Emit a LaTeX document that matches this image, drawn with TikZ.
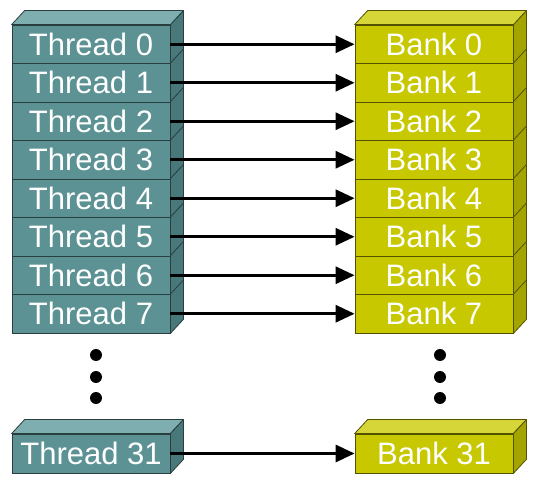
\documentclass[tikz,border=0pt]{standalone}
\usepackage{fontspec}
\setmainfont{Liberation Sans}
\usetikzlibrary{arrows.meta,calc}
\definecolor{thrfront}{RGB}{92,146,148}
\definecolor{thrtop}{RGB}{126,174,175}
\definecolor{thrside}{RGB}{72,120,121}
\definecolor{thredge}{RGB}{40,62,63}
\definecolor{bnkfront}{RGB}{200,200,0}
\definecolor{bnktop}{RGB}{214,214,56}
\definecolor{bnkside}{RGB}{164,164,0}
\definecolor{bnkedge}{RGB}{82,82,0}
\tikzset{
  thr/.style={draw=thredge, fill=thrfront, line width=0.8pt, inner sep=0pt,
              minimum width=158pt, minimum height=38.5pt, text=white,
              font=\fontsize{31}{31}\selectfont},
  bnk/.style={draw=bnkedge, fill=bnkfront, line width=0.8pt, inner sep=0pt,
              minimum width=158pt, minimum height=38.5pt, text=white,
              font=\fontsize{31}{31}\selectfont},
  thrtopf/.style={draw=thredge, fill=thrtop, line width=0.8pt, line join=round},
  thrsidef/.style={draw=thredge, fill=thrside, line width=0.8pt, line join=round},
  bnktopf/.style={draw=bnkedge, fill=bnktop, line width=0.8pt, line join=round},
  bnksidef/.style={draw=bnkedge, fill=bnkside, line width=0.8pt, line join=round},
  maparr/.style={-{Triangle[length=19pt,width=17pt]}, line width=3pt, black},
  vdot/.style={circle, fill=black, inner sep=0pt, minimum size=12pt},
}
% top and side face of a box node, depth (13,-14)
\newcommand{\boxtop}[2]{\draw[#2] (#1.north west) -- ++(13,-14) -- ($(#1.north east)+(13,-14)$) -- (#1.north east) -- cycle;}
\newcommand{\boxside}[2]{\draw[#2] (#1.north east) -- ++(13,-14) -- ($(#1.south east)+(13,-14)$) -- (#1.south east) -- cycle;}

\begin{document}
\begin{tikzpicture}[x=1pt, y=-1pt]
  \useasboundingbox (0,0) rectangle (542,484);
  % stacks of threads and banks
  \foreach \i in {0,...,7} {
    \node[thr] (thread\i) at (91,44.25+38.5*\i) {Thread \i};
    \boxside{thread\i}{thrsidef}
    \node[bnk] (bank\i) at (434,44.25+38.5*\i) {Bank \i};
    \boxside{bank\i}{bnksidef}
  }
  \boxtop{thread0}{thrtopf}
  \boxtop{bank0}{bnktopf}
  % last pair
  \node[thr, minimum height=39pt] (thread31) at (91,453.5) {Thread 31};
  \boxtop{thread31}{thrtopf}
  \boxside{thread31}{thrsidef}
  \node[bnk, minimum height=39pt] (bank31) at (434,453.5) {Bank 31};
  \boxtop{bank31}{bnktopf}
  \boxside{bank31}{bnksidef}
  % dots
  \node[vdot] (tdot1) at (96,355) {};
  \node[vdot] (tdot2) at (96,377) {};
  \node[vdot] (tdot3) at (96,398) {};
  \node[vdot] (bdot1) at (440,355) {};
  \node[vdot] (bdot2) at (440,377) {};
  \node[vdot] (bdot3) at (440,398) {};
  % one thread per bank
  \foreach \i in {0,...,7}
    \draw[maparr] (thread\i.east) -- (bank\i.west);
  \draw[maparr] (thread31.east) -- (bank31.west);
\end{tikzpicture}
\end{document}
